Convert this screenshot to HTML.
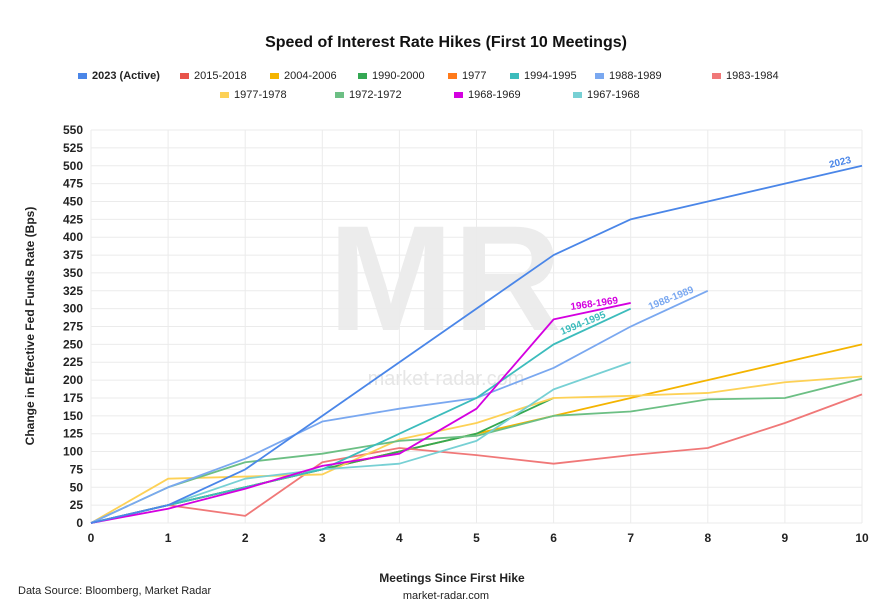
<!DOCTYPE html>
<html><head><meta charset="utf-8"><style>
body{margin:0;background:#fff;width:892px;height:605px;overflow:hidden;font-family:"Liberation Sans",sans-serif}
svg text{font-family:"Liberation Sans",sans-serif}
</style></head><body>
<svg id="s" width="892" height="605" xmlns="http://www.w3.org/2000/svg">
<text x="446" y="47" text-anchor="middle" font-size="16" font-weight="bold" fill="#111">Speed of Interest Rate Hikes (First 10 Meetings)</text>
<g id="leg" font-size="11" fill="#222"></g>
<text x="310" y="330" font-size="150" font-weight="bold" fill="#ececec" text-anchor="middle" transform="translate(135,0)">MR</text>
<text x="446" y="385" font-size="20" fill="#e6e6e6" text-anchor="middle">market-radar.com</text>
<g id="grid"></g>
<g id="lines" fill="none" stroke-width="1.8" stroke-linejoin="round"></g>
<text x="34" y="326" font-size="12" font-weight="bold" fill="#222" text-anchor="middle" transform="rotate(-90 34 326)">Change in Effective Fed Funds Rate (Bps)</text>
<text x="452" y="582" font-size="12" font-weight="bold" fill="#222" text-anchor="middle">Meetings Since First Hike</text>
<text x="18" y="594" font-size="11" fill="#222">Data Source: Bloomberg, Market Radar</text>
<text x="446" y="599" font-size="11" fill="#222" text-anchor="middle">market-radar.com</text>
<g font-size="10" font-weight="bold">
<text x="830" y="168" fill="#4a86e8" transform="rotate(-14 830 168)">2023</text>
<text x="571" y="310" fill="#d400e0" transform="rotate(-8 571 310)">1968-1969</text>
<text x="562" y="335" fill="#3cbcbc" transform="rotate(-22 562 335)">1994-1995</text>
<text x="650" y="310" fill="#7aa8f0" transform="rotate(-22 650 310)">1988-1989</text>
</g>
</svg>
<script>
const X=v=>91+v*77.1, Y=v=>523-v*0.7145, NS="http://www.w3.org/2000/svg";
function el(p,t,a,txt){const e=document.createElementNS(NS,t);for(const k in a)e.setAttribute(k,a[k]);if(txt!==undefined)e.textContent=txt;p.appendChild(e);return e;}
const g=document.getElementById('grid');
for(let v=0;v<=550;v+=25){el(g,'line',{x1:91,x2:862,y1:Y(v),y2:Y(v),stroke:'#ebebeb'});el(g,'text',{x:83,y:Y(v)+4,'text-anchor':'end','font-size':12,'font-weight':'bold',fill:'#222'},v);}
for(let i=0;i<=10;i++){el(g,'line',{x1:X(i),x2:X(i),y1:130,y2:523,stroke:'#ebebeb'});el(g,'text',{x:X(i),y:542,'text-anchor':'middle','font-size':12,'font-weight':'bold',fill:'#222'},i);}
const S=[
['2015-2018','#e8534a',[0,25,50,75,100]],
['2004-2006','#f4b400',[0,25,50,75,100,125,150,175,200,225,250]],
['1990-2000','#34a853',[0,25,50,75,100,125,175]],
['1977','#ff7a1a',[0]],
['1983-1984','#f07878',[0,25,10,85,105,95,83,95,105,140,180]],
['1977-1978','#fdd156',[0,62,65,68,117,140,175,178,182,197,205]],
['1972-1972','#6cbf84',[0,50,85,97,115,122,150,156,173,175,202]],
['1967-1968','#77d0d4',[0,25,62,75,83,115,187,225]],
['1988-1989','#7aa8f0',[0,50,90,142,160,175,217,275,325]],
['1994-1995','#3cbcbc',[0,25,50,75,125,175,250,300]],
['1968-1969','#d400e0',[0,20,48,80,97,160,285,308]],
['2023 (Active)','#4a86e8',[0,25,75,150,225,300,375,425,450,475,500]]];
const L=document.getElementById('lines');
S.forEach(s=>{if(s[2].length>1)el(L,'polyline',{points:s[2].map((v,i)=>X(i)+','+Y(v)).join(' '),stroke:s[1]});});
const lg=document.getElementById('leg');
const pos=[['2023 (Active)',78,79],['2015-2018',180,79],['2004-2006',270,79],['1990-2000',358,79],['1977',448,79],['1994-1995',510,79],['1988-1989',595,79],['1983-1984',712,79],['1977-1978',220,98],['1972-1972',335,98],['1968-1969',454,98],['1967-1968',573,98]];
pos.forEach(p=>{const c=S.find(s=>s[0]==p[0])[1];el(lg,'rect',{x:p[1],y:p[2]-6,width:9,height:6,fill:c});el(lg,'text',{x:p[1]+14,y:p[2],'font-weight':p[0].startsWith('2023')?'bold':'normal'},p[0]);});
</script>
</body></html>
